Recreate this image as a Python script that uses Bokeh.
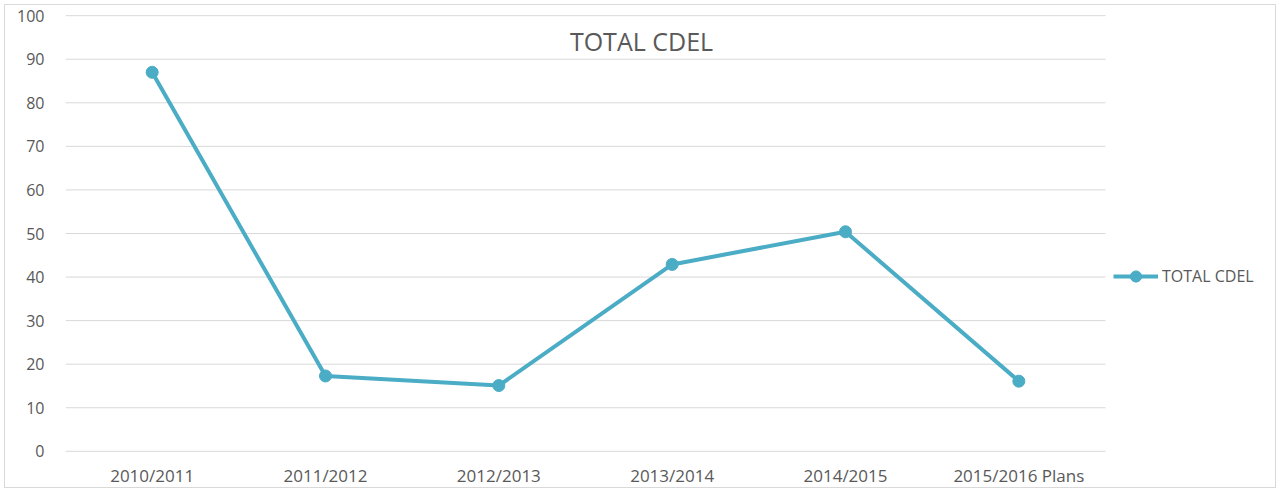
from bokeh.plotting import figure
from bokeh.models import Range1d, FixedTicker, Label, Legend, LegendItem, ColumnDataSource
from bokeh.embed import file_html
from bokeh.resources import INLINE

categories = ["2010/2011", "2011/2012", "2012/2013", "2013/2014", "2014/2015", "2015/2016 Plans"]
total_cdel = [87, 17.3, 15.1, 42.9, 50.4, 16.1]
y_ticks = [0, 10, 20, 30, 40, 50, 60, 70, 80, 90, 100]

n = len(categories)
xs = [i + 0.5 for i in range(n)]
src = ColumnDataSource(data=dict(x=xs, y=total_cdel, cat=categories))
grid_src = ColumnDataSource(data=dict(x0=[0] * len(y_ticks), x1=[n] * len(y_ticks), y=y_ticks))

COLOR = "#4BACC6"
FONT = "Open Sans"

W, H = 1272, 484
LEFT, RIGHT, TOP, BOTTOM = 60, 2, 8, 30
frame_w = W - LEFT - RIGHT
cat_px = 1040 / n
x_end = frame_w / cat_px

p = figure(width=W, height=H, output_backend="svg", toolbar_location=None,
           x_range=Range1d(0, x_end), y_range=Range1d(-0.5, 100.5),
           min_border_left=LEFT, min_border_right=RIGHT, min_border_top=TOP, min_border_bottom=BOTTOM)
p.styles = {"border": "1px solid #d9d9d9", "margin-left": "4px", "margin-top": "4px"}
p.outline_line_color = None
p.background_fill_color = "white"
p.border_fill_color = "white"

p.xgrid.grid_line_color = None
p.ygrid.grid_line_color = None
p.segment("x0", "y", "x1", "y", source=grid_src, line_color="#d9d9d9", line_width=1)

p.yaxis.ticker = FixedTicker(ticks=y_ticks)
p.xaxis.ticker = FixedTicker(ticks=xs)
p.xaxis.major_label_overrides = {x: c for x, c in zip(xs, categories)}

for ax in (p.xaxis[0], p.yaxis[0]):
    ax.axis_line_color = None
    ax.major_tick_line_color = None
    ax.minor_tick_line_color = None
    ax.major_label_text_color = "#595959"
    ax.major_label_text_font = FONT
p.yaxis.major_label_text_font_size = "16px"
p.xaxis.major_label_text_font_size = "17px"
p.yaxis.major_label_standoff = 15
p.xaxis.major_label_standoff = 4

line = p.line("x", "y", source=src, line_color=COLOR, line_width=4)
pts = p.scatter("x", "y", source=src, size=12, fill_color=COLOR, line_color=COLOR)

title = Label(x=3.323, y=94.3, text="TOTAL CDEL", text_font=FONT, text_font_size="25px",
              text_color="#595959", text_align="center", text_baseline="middle")
p.add_layout(title)

legend = Legend(items=[LegendItem(label="TOTAL CDEL", renderers=[line, pts])],
                location=(1048, 163), glyph_width=45, glyph_height=28,
                label_text_font=FONT, label_text_font_size="16px", label_text_color="#595959",
                border_line_color=None, background_fill_alpha=0, padding=0, margin=0,
                label_standoff=4)
p.add_layout(legend)

open("out.html", "w").write(file_html(p, INLINE))
